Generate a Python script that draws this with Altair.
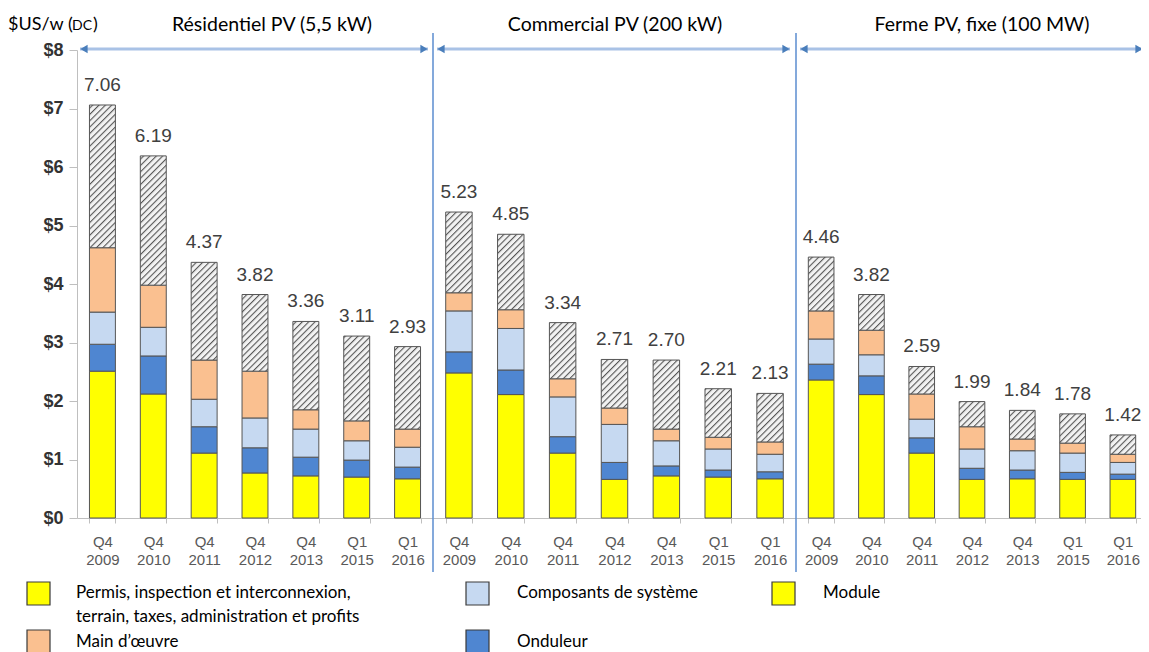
import altair as alt
import pandas as pd
import jinja2

# ---------------- data ----------------
PERIODS = ["Q4 2009", "Q4 2010", "Q4 2011", "Q4 2012", "Q4 2013", "Q1 2015", "Q1 2016"]
COMPONENTS = ["Module", "Onduleur", "Composants", "Main", "Permis"]

PANEL_TITLES = ["Résidentiel PV (5,5 kW)", "Commercial PV (200 kW)", "Ferme PV, fixe (100 MW)"]

res_module = [2.51, 2.12, 1.11, 0.77, 0.72, 0.70, 0.67]
res_onduleur = [0.46, 0.65, 0.45, 0.43, 0.32, 0.29, 0.20]
res_composants = [0.55, 0.49, 0.47, 0.51, 0.48, 0.33, 0.34]
res_main = [1.10, 0.72, 0.67, 0.80, 0.33, 0.34, 0.31]
res_permis = [2.44, 2.21, 1.67, 1.31, 1.51, 1.45, 1.41]
res_total = [7.06, 6.19, 4.37, 3.82, 3.36, 3.11, 2.93]

com_module = [2.48, 2.11, 1.11, 0.66, 0.72, 0.70, 0.67]
com_onduleur = [0.36, 0.42, 0.28, 0.29, 0.17, 0.12, 0.12]
com_composants = [0.70, 0.71, 0.68, 0.65, 0.43, 0.36, 0.30]
com_main = [0.31, 0.32, 0.31, 0.28, 0.20, 0.20, 0.21]
com_permis = [1.38, 1.29, 0.96, 0.83, 1.18, 0.83, 0.83]
com_total = [5.23, 4.85, 3.34, 2.71, 2.70, 2.21, 2.13]

fer_module = [2.36, 2.11, 1.11, 0.66, 0.67, 0.66, 0.66]
fer_onduleur = [0.27, 0.32, 0.26, 0.19, 0.15, 0.12, 0.09]
fer_composants = [0.43, 0.36, 0.32, 0.33, 0.33, 0.33, 0.20]
fer_main = [0.48, 0.42, 0.43, 0.38, 0.20, 0.17, 0.14]
fer_permis = [0.92, 0.61, 0.47, 0.43, 0.49, 0.50, 0.33]
fer_total = [4.46, 3.82, 2.59, 1.99, 1.84, 1.78, 1.42]

LEGEND_LABELS = [
    ["Permis, inspection et interconnexion,", "terrain, taxes, administration et profits"],
    ["Composants de système"],
    ["Module"],
    ["Main d’œuvre"],
    ["Onduleur"],
]

# ---------------- styles ----------------
YELLOW = "#ffff00"
BLUE = "#4f86d1"
LIGHTBLUE = "#c6d9f1"
PEACH = "#fac090"
HATCH = "url(#hatch) #c8c8c8"
COLORS = [YELLOW, BLUE, LIGHTBLUE, PEACH, HATCH]
LEGEND_COLORS = [YELLOW, LIGHTBLUE, YELLOW, PEACH, BLUE]

TXT_FONT = "Lato"
NUM_FONT = "Liberation Sans"
DIV_COLOR = "#5b8ccf"
ARROW_LINE = "#a9c2e6"
ARROW_HEAD = "#4a7ebb"

H = 468
WIDTHS = [356, 363, 352]
ONE = pd.DataFrame({"k": [0]})


def long_df(cols):
    rows = []
    for ci, (comp, vals) in enumerate(zip(COMPONENTS, cols)):
        for p, v in zip(PERIODS, vals):
            rows.append({"period": p, "component": comp, "value": v, "ord": ci})
    return pd.DataFrame(rows)


PANELS = [
    (long_df([res_module, res_onduleur, res_composants, res_main, res_permis]),
     pd.DataFrame({"period": PERIODS, "total": res_total})),
    (long_df([com_module, com_onduleur, com_composants, com_main, com_permis]),
     pd.DataFrame({"period": PERIODS, "total": com_total})),
    (long_df([fer_module, fer_onduleur, fer_composants, fer_main, fer_permis]),
     pd.DataFrame({"period": PERIODS, "total": fer_total})),
]


def text_at(txt, x, y, size, font=TXT_FONT, color="#000000", align="left"):
    return alt.Chart(ONE).mark_text(
        text=txt, font=font, fontSize=size, color=color, align=align, baseline="middle"
    ).encode(x=alt.value(x), y=alt.value(y))


def arrow(x0, x1):
    line = alt.Chart(ONE).mark_rule(color=ARROW_LINE, strokeWidth=3).encode(
        x=alt.value(x0), x2=alt.value(x1), y=alt.value(-1))
    left = alt.Chart(ONE).mark_point(shape="triangle-left", filled=True, size=70,
                                     color=ARROW_HEAD, opacity=1).encode(
        x=alt.value(x0 + 4), y=alt.value(-1))
    right = alt.Chart(ONE).mark_point(shape="triangle-right", filled=True, size=70,
                                      color=ARROW_HEAD, opacity=1).encode(
        x=alt.value(x1 - 4), y=alt.value(-1))
    return [line, left, right]


def divider():
    return alt.Chart(ONE).mark_rule(color=DIV_COLOR, strokeWidth=1.5).encode(
        x=alt.value(0), y=alt.value(-17), y2=alt.value(H + 54))


def square(x, y, color):
    return alt.Chart(ONE).mark_rect(fill=color, stroke="#3a3a3a", strokeWidth=1.2).encode(
        x=alt.value(x), x2=alt.value(x + 23), y=alt.value(y), y2=alt.value(y + 23))


def panel(i):
    df, tot = PANELS[i]
    w = WIDTHS[i]
    xaxis = alt.Axis(title=None, labelAngle=0, labelExpr="split(datum.label, ' ')",
                     labelFont=NUM_FONT, labelFontSize=15, labelColor="#595959",
                     labelLineHeight=18, labelPadding=11, tickBand="extent", tickSize=5,
                     tickColor="#bfbfbf", domainColor="#bfbfbf")
    if i == 0:
        yaxis = alt.Axis(title=None, values=list(range(0, 9)), labelExpr="'$' + datum.value",
                         labelFont=NUM_FONT, labelFontSize=18, labelColor="#333333",
                         labelFontWeight="bold",
                         labelPadding=6, tickSize=8, tickColor="#bfbfbf",
                         domainColor="#bfbfbf", grid=False)
    else:
        yaxis = None
    xs = alt.Scale(domain=PERIODS, paddingInner=0.49, paddingOuter=0.245)
    ys = alt.Scale(domain=[0, 8], nice=False)

    bars = alt.Chart(df).mark_bar(stroke="#555555", strokeWidth=1).encode(
        x=alt.X("period:N", scale=xs, axis=xaxis, sort=PERIODS),
        y=alt.Y("value:Q", scale=ys, axis=yaxis, stack="zero"),
        color=alt.Color("component:N", scale=alt.Scale(domain=COMPONENTS, range=COLORS),
                        legend=None),
        order=alt.Order("ord:Q", sort="ascending"),
    )
    labels = alt.Chart(tot).mark_text(
        font=NUM_FONT, fontSize=19, color="#404040", baseline="alphabetic", dy=-14
    ).encode(
        x=alt.X("period:N", scale=xs, axis=xaxis, sort=PERIODS),
        y=alt.Y("total:Q", scale=ys, axis=yaxis),
        text=alt.Text("total:Q", format=".2f"),
    )
    layers = [bars, labels]
    title_x = [195, 182, 186][i]
    layers.append(text_at(PANEL_TITLES[i], title_x, -25, 19.5, align="center"))
    if i == 0:
        layers += arrow(3, 351)
        layers.append(text_at("$US/w (", -69, -25, 18))
        layers.append(text_at("DC", -5, -24, 14))
        layers.append(text_at(")", 16, -25, 18))
        # legend
        sq_x = [-50, 389, 695, -50, 389]
        sq_y = [532, 532, 532, 580, 580]
        tx_x = [-1, 440, 746, -1, 440]
        tx_y = [543, 543, 543, 592, 592]
        for k in range(5):
            layers.append(square(sq_x[k], sq_y[k], LEGEND_COLORS[k]))
            for j, line in enumerate(LEGEND_LABELS[k]):
                layers.append(text_at(line, tx_x[k], tx_y[k] + 24 * j, 17))
    elif i == 1:
        layers += arrow(4, 357)
        layers.append(divider())
    else:
        layers += arrow(4, 347)
        layers.append(divider())
    return alt.layer(*layers).properties(width=w, height=H)


chart = alt.hconcat(panel(0), panel(1), panel(2), spacing=0, bounds="flush").configure_view(
    stroke=None
).properties(padding={"left": 0, "top": 7, "right": 0, "bottom": 0})

TEMPLATE = jinja2.Template("""<!DOCTYPE html>
<html>
<head>
  <meta charset="utf-8">
  <style>
    body { overflow: hidden; }
    #{{ output_div }}.vega-embed { width: 1240px; display: flex; }
    #{{ output_div }}.vega-embed svg { flex-shrink: 0; max-width: none; }
    #{{ output_div }}.vega-embed details,
    #{{ output_div }}.vega-embed details summary { position: relative; }
  </style>
  <script type="text/javascript" src="{{ base_url }}/vega@{{ vega_version }}"></script>
  <script type="text/javascript" src="{{ base_url }}/vega-lite@{{ vegalite_version }}"></script>
  <script type="text/javascript" src="{{ base_url }}/vega-embed@{{ vegaembed_version }}"></script>
</head>
<body>
  <svg width="0" height="0" style="position:absolute">
    <defs>
      <pattern id="hatch" patternUnits="userSpaceOnUse" width="4.5" height="4.5" patternTransform="rotate(45)">
        <rect width="4.5" height="4.5" fill="#f2f2f2"/>
        <line x1="0" y1="0" x2="0" y2="4.5" stroke="#555555" stroke-width="2.2"/>
      </pattern>
    </defs>
  </svg>
  <div id="{{ output_div }}"></div>
  <script type="text/javascript">
    (function(vegaEmbed) {
      var spec = {{ spec }};
      var embedOpt = {{ embed_options }};
      function showError(el, error){
        el.innerHTML = ('<div style="color:red;"><p>JavaScript Error: ' + error.message + '</p></div>');
        throw error;
      }
      const el = document.getElementById('{{ output_div }}');
      vegaEmbed("#{{ output_div }}", spec, embedOpt).catch(error => showError(el, error));
    })(vegaEmbed);
  </script>
</body>
</html>""")

try:
    chart.save("out.html", embed_options={"renderer": "svg", "actions": False}, template=TEMPLATE)
except Exception:
    chart.save("out.html", embed_options={"renderer": "svg", "actions": False})
